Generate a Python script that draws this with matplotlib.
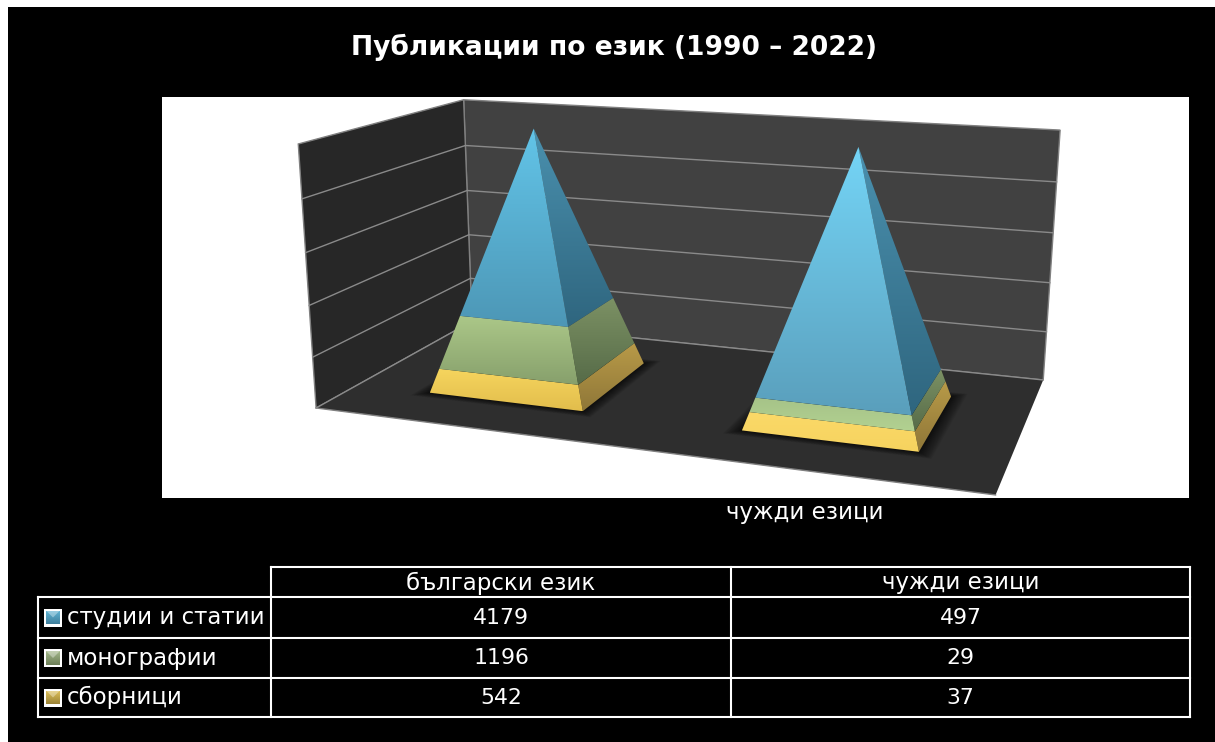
import matplotlib
matplotlib.use('Agg')
import matplotlib.pyplot as plt
from matplotlib.patches import Polygon, Rectangle
import numpy as np

title = 'Публикации по език (1990 – 2022)'
categories = ['български език', 'чужди езици']
series = ['студии и статии', 'монографии', 'сборници']
studies = [4179, 497]
monographs = [1196, 29]
collections = [542, 37]
y_ticks = [0, 20, 40, 60, 80, 100]

# front face top/bottom per column, side face top/bottom, stacked bottom to top
front_cols = {'сборници': [('#f6d55e', '#e2bd4c'), ('#fbd968', '#f6d35f')],
              'монографии': [('#abc788', '#87a06c'), ('#a6c388', '#b2d191')],
              'студии и статии': [('#62c4e8', '#4d97b6'), ('#74d4f6', '#5a9fbc')]}
side_cols = {'сборници': ('#b89a48', '#8f7738'), 'монографии': ('#7c9164', '#566b48'), 'студии и статии': ('#4a90ae', '#2f667f')}
key_cols = {'студии и статии': ('#62b6d6', '#3f7f9c'), 'монографии': ('#a3b88a', '#6d7f58'), 'сборници': ('#e0c25a', '#9c8438')}

plt.rcParams['font.family'] = ['DejaVu Sans']

fig = plt.figure(figsize=(12.15, 7.42), dpi=100, facecolor='white')
ax = fig.add_axes([0, 0, 1, 1])
ax.set_xlim(0, 1215)
ax.set_ylim(742, 0)
ax.axis('off')
ax.add_patch(Rectangle((8, 7), 1207, 735, fc='black', ec='none', zorder=0))
ax.add_patch(Rectangle((162, 97), 1027, 401, fc='white', ec='none', zorder=1))

# camera fitted on the box corners as seen in the picture
box_xyz = np.array([[0, 0, 0], [1, 0, 0], [0, 0, 1], [1, 0, 1], [0, 1, 0], [0, 1, 1], [1, 1, 1]], float)
box_px = np.array([[316, 407], [996, 495], [472, 322], [1043, 380], [298, 145], [464, 99], [1060, 130]], float)
rows = []
for (X, Y, Z), (u, v) in zip(box_xyz, box_px):
    rows.append([X, Y, Z, 1, 0, 0, 0, 0, -u*X, -u*Y, -u*Z, -u])
    rows.append([0, 0, 0, 0, X, Y, Z, 1, -v*X, -v*Y, -v*Z, -v])
P = np.linalg.svd(np.array(rows))[2][-1].reshape(3, 4)


def proj(x, pct, z):
    h = P @ np.array([x, pct/100, z, 1.0])
    return h[0]/h[2], h[1]/h[2]


def grad_poly(verts, top, bottom, zorder):
    verts = np.array(verts)
    c0 = np.array(matplotlib.colors.to_rgb(top))
    c1 = np.array(matplotlib.colors.to_rgb(bottom))
    t = np.linspace(0, 1, 64)[:, None]
    img = (c0*(1-t) + c1*t)[:, None, :]
    x0, y0, x1, y1 = verts[:, 0].min(), verts[:, 1].min(), verts[:, 0].max(), verts[:, 1].max()
    im = ax.imshow(img, extent=(x0, x1, y1, y0), aspect='auto', zorder=zorder, interpolation='bilinear')
    clip = Polygon(verts, transform=ax.transData, fc='none', ec='none')
    ax.add_patch(clip)
    im.set_clip_path(clip)
    ax.set_xlim(0, 1215)
    ax.set_ylim(742, 0)


# walls and floor
back = [proj(0, 0, 1), proj(1, 0, 1), proj(1, 100, 1), proj(0, 100, 1)]
left = [proj(0, 0, 0), proj(0, 0, 1), proj(0, 100, 1), proj(0, 100, 0)]
floor = [proj(0, 0, 0), proj(1, 0, 0), proj(1, 0, 1), proj(0, 0, 1)]
ax.add_patch(Polygon(back, fc='#414141', ec='#808080', lw=1.0, zorder=2))
ax.add_patch(Polygon(left, fc='#272727', ec='#808080', lw=1.0, zorder=2))
ax.add_patch(Polygon(floor, fc='#2e2e2e', ec='none', zorder=3))
ax.plot(*zip(floor[0], floor[1]), color='#808080', lw=1.0, zorder=4)
for t in y_ticks[:-1]:
    ax.plot(*zip(proj(0, t, 0), proj(0, t, 1), proj(1, t, 1)), color='#8a8a8a', lw=1.0, zorder=4)

# stacked pyramids, share of each column
centers = [0.251, 0.751]
half_x = 0.127
half_z = 0.25
stack = [('сборници', collections), ('монографии', monographs), ('студии и статии', studies)]
totals = np.array(collections) + np.array(monographs) + np.array(studies)
for i, cx in enumerate(centers):
    cz = 0.49
    for k in range(14, 0, -1):
        grow = 1 + k*0.012
        foot = [proj(cx - half_x*grow, 0, cz - half_z*grow), proj(cx + half_x*grow, 0, cz - half_z*grow),
                proj(cx + half_x*grow, 0, cz + half_z*grow), proj(cx - half_x*grow, 0, cz + half_z*grow)]
        ax.add_patch(Polygon(foot, fc='black', ec='none', alpha=0.06, zorder=5))
    low = 0.0
    for name, vals in stack:
        high = low + vals[i]/totals[i]*100
        w0, w1 = 1 - low/100, 1 - high/100
        fl0, fr0 = proj(cx - half_x*w0, low, cz - half_z*w0), proj(cx + half_x*w0, low, cz - half_z*w0)
        fl1, fr1 = proj(cx - half_x*w1, high, cz - half_z*w1), proj(cx + half_x*w1, high, cz - half_z*w1)
        br0, br1 = proj(cx + half_x*w0, low, cz + half_z*w0), proj(cx + half_x*w1, high, cz + half_z*w1)
        grad_poly([fl0, fr0, fr1, fl1], front_cols[name][i][0], front_cols[name][i][1], 7)
        grad_poly([fr0, br0, br1, fr1], side_cols[name][0], side_cols[name][1], 6)
        low = high

fig.text(614/1215, 1 - 47/742, title, color='white', fontsize=19.1, fontweight='bold', ha='center', va='center')
ax.text(805, 513, categories[1], color='white', fontsize=16.5, ha='center', va='center', zorder=9)

# data table
col_x = [38, 271, 731, 1190]
row_y = [567, 597, 638, 678, 717]
lc = '#ffffff'
for y in row_y[1:]:
    ax.plot([col_x[0], col_x[3]], [y, y], color=lc, lw=1.5, zorder=8, solid_capstyle='projecting')
ax.plot([col_x[1], col_x[3]], [row_y[0], row_y[0]], color=lc, lw=1.5, zorder=8, solid_capstyle='projecting')
ax.plot([col_x[0], col_x[0]], [row_y[1], row_y[4]], color=lc, lw=1.5, zorder=8)
for x in col_x[1:]:
    ax.plot([x, x], [row_y[0], row_y[4]], color=lc, lw=1.5, zorder=8)
for j, cat in enumerate(categories):
    ax.text((col_x[j+1] + col_x[j+2])/2, (row_y[0] + row_y[1])/2 + 1, cat, color='white', fontsize=16.5, ha='center', va='center', zorder=9)
for r, (name, vals) in enumerate(zip(series, [studies, monographs, collections])):
    ymid = (row_y[r+1] + row_y[r+2])/2
    ax.text(67, ymid, name, color='white', fontsize=16.5, ha='left', va='center', zorder=9)
    ax.add_patch(Rectangle((44, ymid - 9), 18, 18, fc='white', ec='none', zorder=8))
    grad_poly([(46, ymid - 7), (60, ymid - 7), (60, ymid + 7), (46, ymid + 7)], key_cols[name][0], key_cols[name][1], 9)
    ax.add_patch(Polygon([(46, ymid - 7), (60, ymid - 7), (53, ymid)], fc='white', ec='none', alpha=0.35, zorder=10))
    for j, v in enumerate(vals):
        ax.text((col_x[j+1] + col_x[j+2])/2, ymid, str(v), color='white', fontsize=15.8, ha='center', va='center', zorder=9)

fig.savefig('out.png', dpi=100, facecolor='white')
